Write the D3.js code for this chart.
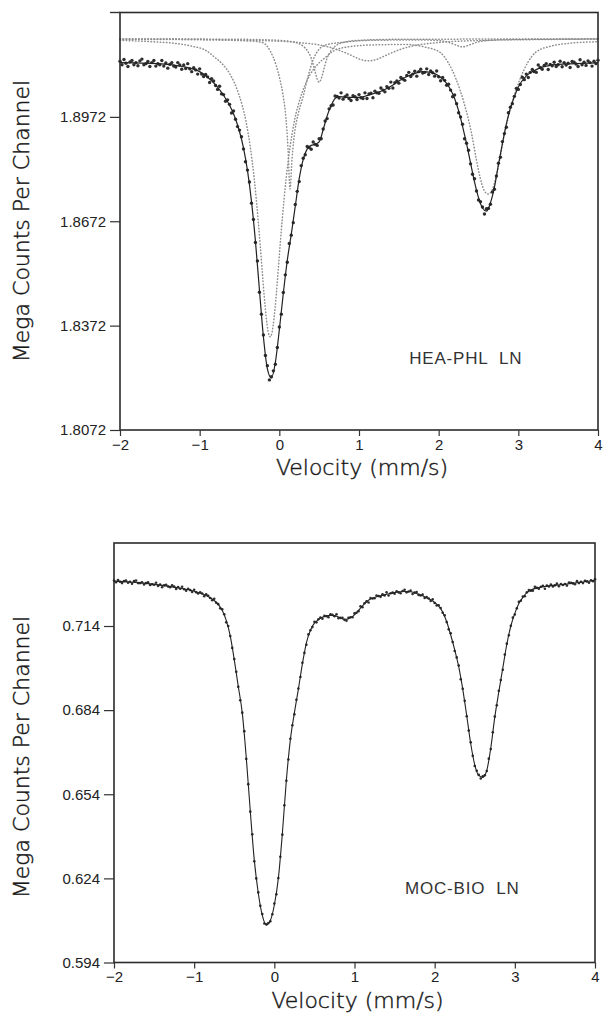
<!DOCTYPE html>
<html>
<head>
<meta charset="utf-8">
<script src="https://cdn.jsdelivr.net/npm/d3@7"></script>
<style>
  html, body { margin: 0; padding: 0; background: #fff; }
  svg { display: block; }
  .tick text { font-family: "Liberation Sans", Arial, sans-serif; font-size: 15px; fill: #222; }
  .tick line { stroke: #333; stroke-width: 1.2; }
  .frame { fill: none; stroke: #2b2b2b; stroke-width: 1.6; }
  .axis-title { font-family: "DejaVu Sans", sans-serif; font-size: 22px; font-weight: 300; fill: #111; stroke: #222; stroke-width: 0.45; }
  .sample-label { font-family: "Liberation Sans", Arial, sans-serif; font-size: 17px; letter-spacing: 0.8px; fill: #333; white-space: pre; }
  .fit { fill: none; stroke: #222; }
  .sub { fill: none; stroke: #8e8e8e; stroke-width: 1.5; stroke-dasharray: 0.5 2.6; stroke-linecap: round; }
</style>
</head>
<body>
<div id="wrapper"></div>
<script>
// channel velocities (mm/s), shared by both spectra
const velocity = [
  -2,-1.975,-1.95,-1.925,-1.9,-1.875,-1.85,-1.825,-1.8,-1.775,-1.75,-1.725,-1.7,-1.675,-1.65,-1.625,-1.6,-1.575,-1.55,-1.525,
  -1.5,-1.475,-1.45,-1.425,-1.4,-1.375,-1.35,-1.325,-1.3,-1.275,-1.25,-1.225,-1.2,-1.175,-1.15,-1.125,-1.1,-1.075,-1.05,-1.025,
  -1,-0.975,-0.95,-0.925,-0.9,-0.875,-0.85,-0.825,-0.8,-0.775,-0.75,-0.725,-0.7,-0.675,-0.65,-0.625,-0.6,-0.575,-0.55,-0.525,
  -0.5,-0.475,-0.45,-0.425,-0.4,-0.375,-0.35,-0.325,-0.3,-0.275,-0.25,-0.225,-0.2,-0.175,-0.15,-0.125,-0.1,-0.075,-0.05,-0.025,
  0,0.025,0.05,0.075,0.1,0.125,0.15,0.175,0.2,0.225,0.25,0.275,0.3,0.325,0.35,0.375,0.4,0.425,0.45,0.475,
  0.5,0.525,0.55,0.575,0.6,0.625,0.65,0.675,0.7,0.725,0.75,0.775,0.8,0.825,0.85,0.875,0.9,0.925,0.95,0.975,
  1,1.025,1.05,1.075,1.1,1.125,1.15,1.175,1.2,1.225,1.25,1.275,1.3,1.325,1.35,1.375,1.4,1.425,1.45,1.475,
  1.5,1.525,1.55,1.575,1.6,1.625,1.65,1.675,1.7,1.725,1.75,1.775,1.8,1.825,1.85,1.875,1.9,1.925,1.95,1.975,
  2,2.025,2.05,2.075,2.1,2.125,2.15,2.175,2.2,2.225,2.25,2.275,2.3,2.325,2.35,2.375,2.4,2.425,2.45,2.475,
  2.5,2.525,2.55,2.575,2.6,2.625,2.65,2.675,2.7,2.725,2.75,2.775,2.8,2.825,2.85,2.875,2.9,2.925,2.95,2.975,
  3,3.025,3.05,3.075,3.1,3.125,3.15,3.175,3.2,3.225,3.25,3.275,3.3,3.325,3.35,3.375,3.4,3.425,3.45,3.475,
  3.5,3.525,3.55,3.575,3.6,3.625,3.65,3.675,3.7,3.725,3.75,3.775,3.8,3.825,3.85,3.875,3.9,3.925,3.95,3.975,
  4
];

// HEA-PHL LN: measured counts (mega counts per channel)
const heaCounts = [
  1.9132,1.9122,1.9137,1.9126,1.9117,1.9130,1.9134,1.9122,1.9128,1.9119,
  1.9133,1.9138,1.9122,1.9125,1.9131,1.9117,1.9128,1.9134,1.9118,1.9125,
  1.9122,1.9134,1.9118,1.9127,1.9112,1.9123,1.9128,1.9118,1.9115,1.9128,
  1.9121,1.9109,1.9121,1.9111,1.9125,1.9110,1.9102,1.9113,1.9107,1.9095,
  1.9110,1.9095,1.9088,1.9094,1.9087,1.9071,1.9082,1.9075,1.9062,1.9051,
  1.9060,1.9038,1.9036,1.9017,1.9021,1.9008,1.8983,1.8989,1.8965,1.8944,
  1.8934,1.8915,1.8880,1.8843,1.8819,1.8785,1.8724,1.8677,1.8611,1.8558,
  1.8468,1.8405,1.8345,1.8286,1.8257,1.8216,1.8225,1.8242,1.8261,1.8309,
  1.8368,1.8405,1.8467,1.8518,1.8554,1.8608,1.8632,1.8668,1.8720,1.8758,
  1.8786,1.8832,1.8853,1.8863,1.8887,1.8884,1.8879,1.8900,1.8893,1.8890,
  1.8909,1.8909,1.8937,1.8960,1.8967,1.8995,1.9004,1.9006,1.9032,1.9031,
  1.9026,1.9041,1.9023,1.9030,1.9035,1.9025,1.9019,1.9033,1.9030,1.9022,
  1.9036,1.9027,1.9025,1.9041,1.9025,1.9038,1.9040,1.9027,1.9046,1.9041,
  1.9040,1.9055,1.9049,1.9044,1.9059,1.9054,1.9072,1.9055,1.9070,1.9075,
  1.9069,1.9085,1.9081,1.9077,1.9091,1.9100,1.9088,1.9095,1.9103,1.9089,
  1.9102,1.9109,1.9098,1.9100,1.9110,1.9094,1.9104,1.9099,1.9089,1.9104,
  1.9087,1.9076,1.9085,1.9077,1.9063,1.9066,1.9049,1.9030,1.9035,1.9010,
  1.8984,1.8972,1.8951,1.8909,1.8896,1.8876,1.8837,1.8807,1.8794,1.8759,
  1.8733,1.8728,1.8713,1.8693,1.8708,1.8709,1.8721,1.8756,1.8764,1.8802,
  1.8839,1.8856,1.8901,1.8924,1.8942,1.8984,1.9000,1.9010,1.9031,1.9054,
  1.9051,1.9065,1.9086,1.9079,1.9095,1.9085,1.9100,1.9108,1.9102,1.9100,
  1.9121,1.9114,1.9109,1.9120,1.9125,1.9108,1.9123,1.9119,1.9129,1.9117,
  1.9122,1.9132,1.9116,1.9128,1.9121,1.9126,1.9114,1.9131,1.9129,1.9124,
  1.9117,1.9136,1.9122,1.9129,1.9120,1.9133,1.9128,1.9118,1.9132,1.9125,1.9135
];

// HEA-PHL LN: fitted envelope [velocity, counts]
const heaFit = [
  [-2.0,1.9128],[-1.8,1.9127],[-1.6,1.9126],[-1.4,1.9123],[-1.2,1.9116],[-1.0,1.9102],[-0.9,1.9086],[-0.8,1.9064],
  [-0.7,1.9034],[-0.6,1.8994],[-0.55,1.8966],[-0.5,1.8930],[-0.45,1.8883],[-0.4,1.8818],[-0.35,1.8730],[-0.3,1.8615],
  [-0.25,1.8475],[-0.2,1.8340],[-0.15,1.8248],[-0.1,1.8222],[-0.05,1.8266],[0.0,1.8360],[0.05,1.8465],[0.1,1.8560],
  [0.15,1.8635],[0.2,1.8715],[0.25,1.8795],[0.3,1.8850],[0.35,1.8880],[0.4,1.8890],[0.45,1.8893],[0.5,1.8900],
  [0.55,1.8935],[0.6,1.8975],[0.65,1.9005],[0.7,1.9025],[0.75,1.9030],[0.9,1.9028],[1.0,1.9028],[1.1,1.9033],
  [1.2,1.9040],[1.3,1.9048],[1.4,1.9060],[1.5,1.9075],[1.6,1.9088],[1.7,1.9097],[1.8,1.9102],[1.9,1.9100],
  [2.0,1.9090],[2.1,1.9068],[2.15,1.9050],[2.2,1.9025],[2.25,1.8990],[2.3,1.8945],[2.35,1.8895],[2.4,1.8840],
  [2.45,1.8785],[2.5,1.8740],[2.55,1.8710],[2.6,1.8701],[2.65,1.8725],[2.7,1.8770],[2.75,1.8835],[2.8,1.8895],
  [2.85,1.8952],[2.9,1.8997],[2.95,1.9030],[3.0,1.9058],[3.1,1.9090],[3.2,1.9105],[3.3,1.9115],[3.4,1.9120],
  [3.6,1.9124],[3.8,1.9126],[4.0,1.9127]
];

// HEA-PHL LN: sub-spectra drawn offset above the data
const heaSubA = [
  [-2.0,1.9192],[-1.6,1.9188],[-1.3,1.9183],[-1.115,1.9176],[-0.915,1.9162],[-0.815,1.9144],[-0.715,1.9124],
  [-0.615,1.9093],[-0.515,1.9041],[-0.415,1.8955],[-0.365,1.8886],[-0.315,1.8794],[-0.265,1.8673],[-0.24,1.8604],
  [-0.215,1.8529],[-0.19,1.8457],[-0.165,1.8397],[-0.14,1.8354],[-0.115,1.8340],[-0.09,1.8354],[-0.065,1.8397],
  [-0.04,1.8457],[-0.015,1.8529],[0.01,1.8604],[0.035,1.8673],[0.085,1.8794],[0.135,1.8886],[0.185,1.8955],
  [0.285,1.9041],[0.385,1.9093],[0.485,1.9124],[0.585,1.9144],[0.685,1.9162],[0.885,1.9174],[1.2,1.9179],
  [1.6,1.9180],[1.82,1.9173],[2.02,1.9157],[2.12,1.9128],[2.22,1.9080],[2.32,1.9011],[2.37,1.8968],[2.42,1.8916],
  [2.47,1.8853],[2.52,1.8798],[2.57,1.8761],[2.62,1.8750],[2.67,1.8761],[2.72,1.8799],[2.77,1.8853],[2.82,1.8917],
  [2.87,1.8968],[2.92,1.9011],[3.02,1.9080],[3.12,1.9129],[3.22,1.9158],[3.42,1.9176],[3.62,1.9183],[4.0,1.9188]
];
const heaSubB = [
  [-2.0,1.9195],[-0.866,1.9193],[-0.366,1.9190],[-0.206,1.9185],[-0.116,1.9162],[-0.041,1.9121],[0.009,1.9078],
  [0.044,1.9038],[0.074,1.8989],[0.094,1.8937],[0.109,1.8880],[0.134,1.8765],[0.159,1.8851],[0.197,1.8935],
  [0.234,1.8978],[0.297,1.9029],[0.359,1.9087],[0.424,1.9136],[0.484,1.9162],[0.584,1.9179],[0.834,1.9187],
  [1.134,1.9192],[1.8,1.9193],[2.0,1.9191],[2.1,1.9188],[2.2,1.9180],[2.3,1.9173],[2.4,1.9180],[2.5,1.9188],
  [2.6,1.9191],[2.8,1.9194],[4.0,1.9196]
];
const heaSubC = [
  [-2.0,1.9196],[-0.5,1.9195],[0.0,1.9192],[0.2,1.9186],[0.3,1.9175],[0.35,1.9163],[0.4,1.9141],[0.425,1.9123],
  [0.45,1.9101],[0.475,1.9081],[0.5,1.9072],[0.525,1.9081],[0.55,1.9101],[0.575,1.9123],[0.6,1.9141],[0.65,1.9163],
  [0.7,1.9175],[0.8,1.9186],[1.0,1.9192],[1.5,1.9195],[4.0,1.9196]
];
const heaSubD = [
  [-2.0,1.9196],[-1.0,1.9195],[-0.38,1.9192],[0.12,1.9188],[0.32,1.9184],[0.52,1.9178],[0.72,1.9166],[0.82,1.9157],
  [0.92,1.9147],[1.02,1.9137],[1.12,1.9133],[1.22,1.9137],[1.32,1.9147],[1.42,1.9157],[1.52,1.9166],[1.72,1.9178],
  [1.92,1.9184],[2.12,1.9188],[2.62,1.9192],[3.62,1.9195],[4.0,1.9196]
];

// MOC-BIO LN: measured counts
const mocCounts = [
  0.7302,0.7296,0.7304,0.7298,0.7293,0.7300,0.7302,0.7294,0.7298,0.7291,
  0.7300,0.7302,0.7293,0.7293,0.7296,0.7288,0.7293,0.7296,0.7286,0.7289,
  0.7287,0.7294,0.7283,0.7288,0.7278,0.7285,0.7287,0.7281,0.7278,0.7285,
  0.7281,0.7272,0.7279,0.7273,0.7280,0.7271,0.7266,0.7273,0.7268,0.7261,
  0.7269,0.7260,0.7256,0.7260,0.7256,0.7246,0.7253,0.7248,0.7240,0.7232,
  0.7237,0.7223,0.7218,0.7203,0.7200,0.7182,0.7153,0.7140,0.7104,0.7062,
  0.7022,0.6977,0.6923,0.6875,0.6831,0.6765,0.6666,0.6576,0.6478,0.6397,
  0.6301,0.6240,0.6190,0.6142,0.6113,0.6079,0.6076,0.6081,0.6087,0.6112,
  0.6150,0.6183,0.6241,0.6317,0.6396,0.6501,0.6588,0.6664,0.6738,0.6786,
  0.6825,0.6877,0.6917,0.6958,0.7009,0.7044,0.7073,0.7110,0.7125,0.7136,
  0.7155,0.7153,0.7164,0.7170,0.7166,0.7176,0.7175,0.7171,0.7182,0.7180,
  0.7175,0.7182,0.7168,0.7169,0.7169,0.7162,0.7159,0.7169,0.7171,0.7171,
  0.7185,0.7187,0.7193,0.7210,0.7207,0.7221,0.7228,0.7224,0.7240,0.7238,
  0.7239,0.7249,0.7247,0.7244,0.7253,0.7249,0.7260,0.7249,0.7257,0.7259,
  0.7255,0.7264,0.7260,0.7257,0.7265,0.7269,0.7260,0.7263,0.7266,0.7254,
  0.7259,0.7261,0.7251,0.7249,0.7252,0.7240,0.7243,0.7238,0.7229,0.7235,
  0.7222,0.7213,0.7214,0.7204,0.7187,0.7178,0.7154,0.7128,0.7114,0.7083,
  0.7051,0.7028,0.6999,0.6950,0.6916,0.6873,0.6818,0.6767,0.6725,0.6677,
  0.6641,0.6624,0.6609,0.6596,0.6604,0.6608,0.6623,0.6667,0.6701,0.6761,
  0.6817,0.6857,0.6909,0.6947,0.6984,0.7038,0.7077,0.7107,0.7141,0.7170,
  0.7181,0.7203,0.7226,0.7230,0.7245,0.7246,0.7260,0.7268,0.7266,0.7266,
  0.7280,0.7276,0.7273,0.7280,0.7283,0.7273,0.7284,0.7281,0.7288,0.7281,
  0.7285,0.7291,0.7282,0.7290,0.7286,0.7290,0.7284,0.7295,0.7294,0.7292,
  0.7289,0.7300,0.7293,0.7298,0.7293,0.7301,0.7299,0.7294,0.7303,0.7300,0.7307
];

// MOC-BIO LN: fitted envelope
const mocFit = [
  [-2.0,0.7300],[-1.8,0.7297],[-1.6,0.7292],[-1.4,0.7285],[-1.2,0.7276],[-1.0,0.7264],[-0.9,0.7255],[-0.8,0.7241],
  [-0.75,0.7231],[-0.7,0.7217],[-0.65,0.7196],[-0.6,0.7160],[-0.55,0.7105],[-0.5,0.7020],[-0.45,0.6925],[-0.4,0.6830],
  [-0.35,0.6670],[-0.3,0.6480],[-0.25,0.6305],[-0.2,0.6187],[-0.15,0.6108],[-0.1,0.6074],[-0.05,0.6090],[0.0,0.6145],
  [0.05,0.6240],[0.1,0.6400],[0.15,0.6590],[0.2,0.6735],[0.25,0.6830],[0.3,0.6915],[0.35,0.7005],[0.4,0.7080],
  [0.45,0.7125],[0.5,0.7150],[0.55,0.7163],[0.6,0.7171],[0.65,0.7176],[0.7,0.7178],[0.75,0.7177],[0.8,0.7172],
  [0.85,0.7165],[0.9,0.7164],[0.95,0.7170],[1.0,0.7180],[1.05,0.7196],[1.1,0.7212],[1.15,0.7226],[1.2,0.7236],
  [1.3,0.7246],[1.4,0.7253],[1.5,0.7259],[1.6,0.7263],[1.7,0.7262],[1.8,0.7253],[1.9,0.7241],[2.0,0.7224],
  [2.05,0.7211],[2.1,0.7190],[2.15,0.7155],[2.2,0.7108],[2.25,0.7055],[2.3,0.6995],[2.35,0.6915],[2.4,0.6820],
  [2.45,0.6720],[2.5,0.6645],[2.55,0.6607],[2.6,0.6600],[2.65,0.6625],[2.7,0.6705],[2.75,0.6815],[2.8,0.6905],
  [2.85,0.6990],[2.9,0.7075],[2.95,0.7140],[3.0,0.7185],[3.05,0.7220],[3.1,0.7242],[3.15,0.7259],[3.2,0.7268],
  [3.3,0.7277],[3.4,0.7282],[3.6,0.7288],[3.8,0.7295],[4.0,0.7302]
];

// axes
const velocityTicks = [-2, -1, 0, 1, 2, 3, 4];
const heaTicks = [1.8072, 1.8372, 1.8672, 1.8972];
const mocTicks = [0.594, 0.624, 0.654, 0.684, 0.714];

const width = 605;
const height = 1021;

const svg = d3.select("#wrapper")
  .append("svg")
  .attr("width", width)
  .attr("height", height);

const lineGenerator = (x, y) => d3.line()
  .x(d => x(d[0]))
  .y(d => y(d[1]))
  .curve(d3.curveMonotoneX);

function drawPanel(p) {
  const xScale = d3.scaleLinear().domain([-2, 4]).range([p.left, p.right]);
  const yScale = d3.scaleLinear().domain(p.yDomain).range([p.bottom, p.top]);
  const line = lineGenerator(xScale, yScale);
  const g = svg.append("g");

  // dotted sub-spectra
  p.subspectra.forEach(s => {
    g.append("path").attr("class", "sub").attr("d", line(s));
  });

  // measured points
  g.append("g").selectAll("circle")
    .data(p.counts)
    .join("circle")
    .attr("cx", (d, i) => xScale(velocity[i]))
    .attr("cy", d => yScale(d))
    .attr("r", p.dotR)
    .attr("fill", "#2e2e2e");

  // fitted curve
  g.append("path")
    .attr("class", "fit")
    .attr("stroke-width", p.fitW)
    .attr("d", line(p.fit));

  // frame
  g.append("rect")
    .attr("class", "frame")
    .attr("x", p.left)
    .attr("y", p.top)
    .attr("width", p.right - p.left)
    .attr("height", p.bottom - p.top);

  if (p.topStub) {
    g.append("line")
      .attr("x1", p.left - 10).attr("x2", p.left)
      .attr("y1", p.top).attr("y2", p.top)
      .attr("stroke", "#333").attr("stroke-width", 1.4);
  }

  const yAxis = g.append("g")
    .attr("transform", `translate(${p.left},0)`)
    .call(d3.axisLeft(yScale)
      .tickValues(p.yTicks)
      .tickFormat(d3.format(p.yFormat))
      .tickSize(10)
      .tickPadding(4));
  yAxis.select(".domain").remove();

  const xAxis = g.append("g")
    .attr("transform", `translate(0,${p.bottom})`)
    .call(d3.axisBottom(xScale)
      .tickValues(velocityTicks)
      .tickFormat(d3.format("d"))
      .tickSize(6)
      .tickPadding(3));
  xAxis.select(".domain").remove();

  // titles
  g.append("text")
    .attr("class", "axis-title")
    .attr("text-anchor", "middle")
    .attr("transform", `translate(29,${p.yTitleY}) rotate(-90)`)
    .text("Mega Counts Per Channel");

  g.append("text")
    .attr("class", "axis-title")
    .attr("text-anchor", "middle")
    .attr("x", (p.left + p.right) / 2 + 3)
    .attr("y", p.bottom + 45)
    .text("Velocity  (mm/s)");

  g.append("text")
    .attr("class", "sample-label")
    .attr("x", xScale(p.labelAt[0]))
    .attr("y", yScale(p.labelAt[1]))
    .text(p.label);
}

drawPanel({
  left: 120, right: 598, top: 12.5, bottom: 430,
  yDomain: [1.8072, 1.9272],
  yTicks: heaTicks, yFormat: ".4f",
  counts: heaCounts, fit: heaFit,
  subspectra: [heaSubA, heaSubB, heaSubC, heaSubD],
  dotR: 1.7, fitW: 1.2, topStub: true,
  yTitleY: 221,
  label: "HEA-PHL  LN", labelAt: [1.63, 1.8262]
});

drawPanel({
  left: 114, right: 595, top: 543, bottom: 962.5,
  yDomain: [0.594, 0.7436],
  yTicks: mocTicks, yFormat: ".3f",
  counts: mocCounts, fit: mocFit,
  subspectra: [],
  dotR: 1.3, fitW: 1.1, topStub: false,
  yTitleY: 757,
  label: "MOC-BIO  LN", labelAt: [1.63, 0.6184]
});
</script>
</body>
</html>
